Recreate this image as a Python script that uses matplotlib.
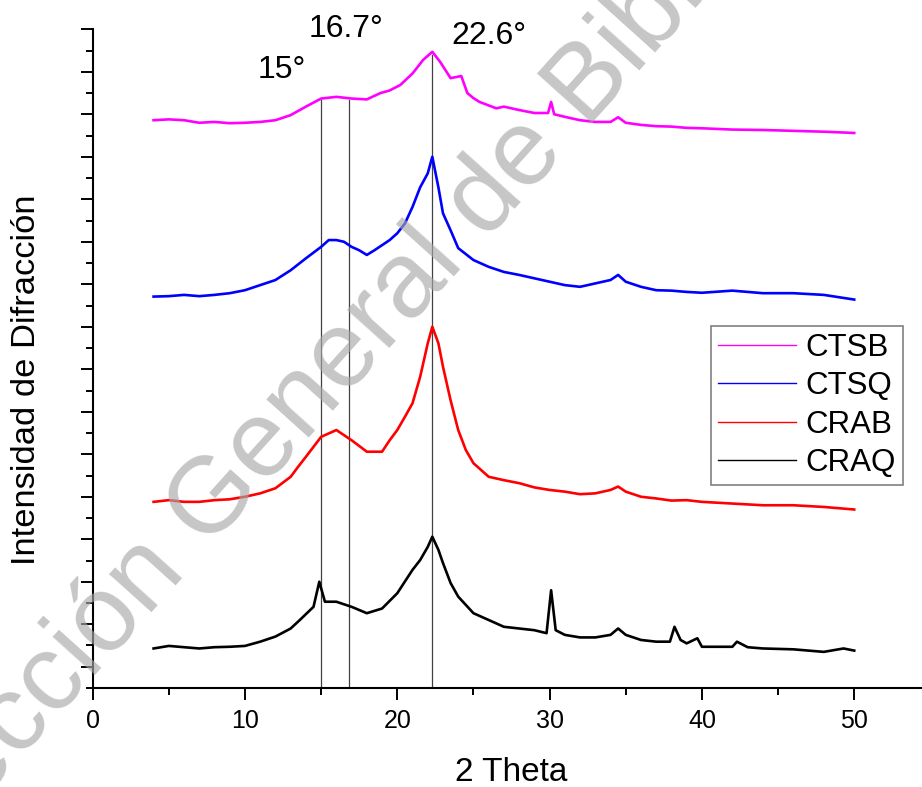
import matplotlib
matplotlib.use("Agg")
import matplotlib.pyplot as plt
from matplotlib.ticker import MultipleLocator

plt.rcParams['font.family'] = ['Liberation Sans', 'DejaVu Sans']

# --- data (2 theta in degrees, intensity in offset counts) ---
theta_ctsb = [4, 5, 6, 7, 8, 9, 10, 11, 12, 13, 14, 15, 16, 17, 18, 18.9, 19.5, 20.2, 21,
              21.7, 22.3, 22.8, 23.5, 24.2, 24.6, 25, 25.4, 26.5, 27, 28, 29, 29.9, 30.1,
              30.3, 31, 32, 33, 34, 34.5, 35, 36, 37, 38, 39, 40, 42, 44, 46, 48, 50]
ctsb = [1286, 1288, 1286, 1280, 1282, 1279, 1280, 1282, 1286, 1298, 1318, 1337, 1341, 1337,
        1335, 1350, 1356, 1369, 1396, 1428, 1447, 1424, 1385, 1390, 1350, 1338, 1329, 1314,
        1318, 1310, 1303, 1303, 1329, 1300, 1294, 1286, 1282, 1282, 1293, 1280, 1275, 1272,
        1271, 1268, 1267, 1264, 1263, 1261, 1259, 1256]

theta_ctsq = [4, 5, 6, 7, 8, 9, 10, 11, 12, 13, 14, 15, 15.5, 16, 16.5, 17, 17.5, 18, 18.5,
              19, 19.5, 20, 20.5, 21, 21.5, 22, 22.3, 22.7, 23, 23.5, 24, 25, 26, 27, 28,
              29, 30, 31, 32, 33, 34, 34.5, 35, 36, 37, 38, 39, 40, 42, 44, 46, 48, 50]
ctsq = [871, 872, 875, 872, 875, 879, 886, 898, 910, 933, 961, 988, 1004, 1004, 1000, 988,
        980, 969, 980, 992, 1004, 1020, 1043, 1082, 1128, 1161, 1200, 1128, 1067, 1027, 985,
        957, 941, 929, 922, 914, 906, 898, 894, 902, 910, 922, 906, 894, 886, 885, 882, 880,
        885, 879, 879, 875, 864]

theta_crab = [4, 5, 6, 7, 8, 9, 10, 11, 12, 13, 13.5, 14, 15, 16, 17, 18, 19, 19.5, 20,
              20.5, 21, 21.5, 22, 22.3, 22.7, 23, 23.5, 24, 24.5, 25, 26, 27, 28, 29, 30,
              31, 32, 33, 34, 34.5, 35, 36, 37, 38, 39, 40, 42, 44, 46, 48, 50]
crab = [388, 392, 388, 388, 392, 394, 400, 408, 420, 447, 471, 494, 541, 557, 533, 506, 506,
        533, 557, 588, 620, 682, 761, 800, 761, 706, 627, 557, 510, 479, 447, 439, 432, 422,
        416, 412, 406, 408, 416, 424, 412, 400, 396, 391, 392, 388, 384, 380, 380, 376, 370]

theta_craq = [4, 5, 6, 7, 8, 9, 10, 11, 12, 13, 13.6, 14.5, 14.88, 15.25, 16, 17, 18, 19,
              20, 21, 21.5, 22, 22.3, 22.7, 23, 23.5, 24, 25, 26, 27, 28, 29, 29.8, 30.1,
              30.4, 31, 32, 33, 34, 34.5, 35, 36, 37, 37.9, 38.2, 38.6, 39, 39.7, 40, 42,
              42.3, 43, 44, 46, 48, 49.3, 50]
craq = [43, 49, 46, 43, 46, 47, 49, 59, 71, 90, 110, 141, 200, 153, 153, 141, 126, 137, 173,
        228, 251, 282, 306, 275, 244, 197, 165, 126, 110, 94, 90, 86, 79, 180, 86, 75, 69,
        69, 75, 90, 75, 63, 59, 59, 94, 63, 55, 67, 47, 47, 59, 46, 43, 41, 35, 43, 38]

series_names = ['CTSB', 'CTSQ', 'CRAB', 'CRAQ']
series_colors = ['#ff00ff', '#0000ff', '#ff0000', '#000000']

peak_pos = [15.0, 16.8, 22.3]
peak_top = [1333, 1333, 1439]
peak_labels = ['15°', '16.7°', '22.6°']
label_xy = [(12.43, 1404), (16.63, 1500), (26.03, 1485)]

fig = plt.figure(figsize=(9.22, 7.87), dpi=100)
ax = fig.add_axes([0.1005, 0.1258, 0.8995, 0.837])

for th, vals, name, col in zip([theta_ctsb, theta_ctsq, theta_crab, theta_craq],
                               [ctsb, ctsq, crab, craq], series_names, series_colors):
    ax.plot(th, vals, color=col, lw=1.9, label=name)

for xp, top in zip(peak_pos, peak_top):
    ax.plot([xp, xp], [-50, top], color='#404040', lw=0.9, zorder=1)

for txt, (tx, ty) in zip(peak_labels, label_xy):
    ax.text(tx, ty, txt, fontsize=23, ha='center', va='center', clip_on=False)

ax.set_xlim(0, 54.45)
ax.set_ylim(-50, 1500)
ax.spines['top'].set_visible(False)
ax.spines['right'].set_visible(False)
for s in ['left', 'bottom']:
    ax.spines[s].set_linewidth(1.5)

ax.xaxis.set_major_locator(MultipleLocator(10))
ax.xaxis.set_minor_locator(MultipleLocator(5))
ax.yaxis.set_major_locator(MultipleLocator(100))
ax.yaxis.set_minor_locator(MultipleLocator(50))
ax.tick_params(which='major', direction='out', length=8.8, width=1.4, labelsize=18, pad=6)
ax.tick_params(which='minor', direction='out', length=5, width=1.4)
ax.tick_params(axis='y', which='both', labelleft=False)

ax.text(0.505, -0.129, '2 Theta', transform=ax.transAxes, fontsize=24,
        ha='center', va='center')
ax.text(-0.080, 0.4676, 'Intensidad de Difracción', transform=ax.transAxes, fontsize=24.8,
        rotation=90, ha='center', va='center')

leg = ax.legend(loc='upper right', bbox_to_anchor=(903 / 922, 1 - 326 / 787),
                bbox_transform=fig.transFigure, borderaxespad=0, fontsize=22.5,
                handlelength=2.5, handletextpad=0.3, labelspacing=0.27,
                borderpad=0.22, fancybox=False, framealpha=1)
leg.get_frame().set_edgecolor('#808080')
leg.get_frame().set_linewidth(1.2)
for ln in leg.get_lines():
    ln.set_linewidth(1.0)

# watermark
fig.text(390 / 922, 1 - 305 / 787, 'Dirección General de Bibliotecas', fontsize=78,
         color='#a8a8a8', alpha=0.65, rotation=48, rotation_mode='anchor',
         ha='center', va='center', zorder=10)

fig.savefig('out.png', dpi=100)
